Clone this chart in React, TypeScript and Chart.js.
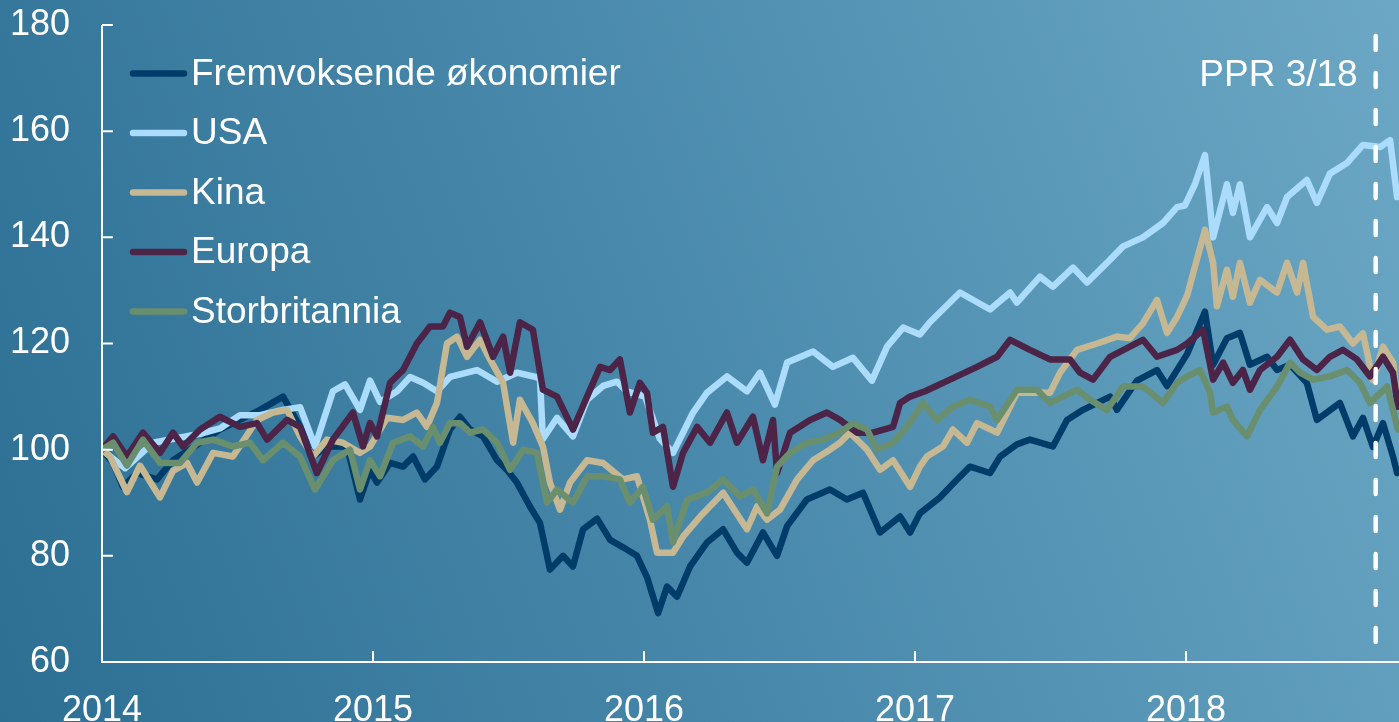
import React, { useEffect, useRef } from "react";
import { Chart, registerables } from "chart.js";

Chart.register(...registerables);

const FONT = '"Liberation Sans", Arial, Helvetica, sans-serif';

const yearTicks = [2014, 2015, 2016, 2017, 2018];
const valueTicks = [60, 80, 100, 120, 140, 160, 180];
const xMin = 2014;
const xMax = 2018.786;
const pprDate = 2018.7;
const pprLabel = "PPR 3/18";

const seriesNames = ["Fremvoksende økonomier", "USA", "Kina", "Europa", "Storbritannia"];
const seriesColors = ["#003c6a", "#acdcfc", "#c5b893", "#4b2448", "#6a8f6f"];

const emergingMarkets: [number, number][] = [
  [2014.0, 100], [2014.041, 97.5], [2014.077, 93], [2014.129, 95.6], [2014.203, 94.4], [2014.262, 98],
  [2014.362, 101.3], [2014.435, 103.8], [2014.509, 105.6], [2014.583, 107.5], [2014.668, 110], [2014.731, 104.3],
  [2014.779, 98.7], [2014.83, 100.6], [2014.904, 100.6], [2014.952, 90.6], [2014.989, 96.2], [2015.015, 93.8],
  [2015.063, 97.5], [2015.111, 96.8], [2015.148, 98.7], [2015.192, 94.4], [2015.236, 96.8], [2015.284, 103.8],
  [2015.321, 106.2], [2015.358, 103.8], [2015.406, 102.5], [2015.458, 98], [2015.494, 96.2], [2015.531, 93.8],
  [2015.579, 89.3], [2015.616, 86.2], [2015.653, 77.4], [2015.701, 80], [2015.738, 78], [2015.775, 85],
  [2015.827, 87], [2015.875, 83], [2015.923, 81.6], [2015.974, 80], [2016.011, 76], [2016.052, 69.2],
  [2016.085, 74.2], [2016.122, 72.3], [2016.17, 78], [2016.232, 82.5], [2016.292, 85], [2016.343, 80.6],
  [2016.38, 78.7], [2016.439, 84.4], [2016.491, 80], [2016.528, 85.6], [2016.601, 90.6], [2016.686, 92.5],
  [2016.749, 90.6], [2016.808, 91.9], [2016.871, 84.4], [2016.945, 87.4], [2016.982, 84.4], [2017.018, 88],
  [2017.092, 91], [2017.148, 94], [2017.203, 96.8], [2017.277, 95.6], [2017.314, 98.7], [2017.376, 101],
  [2017.424, 101.9], [2017.509, 100.6], [2017.561, 105.6], [2017.62, 107.5], [2017.72, 110], [2017.745, 107.5],
  [2017.819, 113], [2017.893, 115], [2017.93, 112], [2018.004, 118], [2018.07, 126], [2018.1, 116],
  [2018.151, 121], [2018.199, 122], [2018.236, 116], [2018.299, 117.5], [2018.336, 115], [2018.384, 116],
  [2018.446, 112.6], [2018.483, 105.6], [2018.568, 108.8], [2018.616, 102.5], [2018.653, 106], [2018.69, 100.5],
  [2018.727, 105], [2018.764, 98.7], [2018.779, 95.6],
];

const usa: [number, number][] = [
  [2014.0, 100], [2014.085, 96.5], [2014.188, 101.3], [2014.362, 103], [2014.435, 104], [2014.509, 106.5],
  [2014.583, 106.5], [2014.668, 107.5], [2014.731, 108], [2014.786, 100.6], [2014.852, 111], [2014.897, 112.3],
  [2014.952, 107.5], [2014.989, 113], [2015.026, 109], [2015.089, 111], [2015.137, 113.7], [2015.185, 112.6],
  [2015.236, 111], [2015.284, 113.7], [2015.384, 115], [2015.458, 112.8], [2015.531, 114.5], [2015.616, 113.5],
  [2015.627, 102], [2015.679, 106], [2015.738, 102.5], [2015.79, 109.4], [2015.849, 112], [2015.9, 112.8],
  [2015.937, 111], [2016.004, 110], [2016.059, 102], [2016.107, 99.4], [2016.181, 107], [2016.232, 110.7],
  [2016.306, 113.8], [2016.38, 111], [2016.428, 114.5], [2016.483, 108.5], [2016.528, 116.4], [2016.624, 118.5],
  [2016.697, 115.6], [2016.771, 117.3], [2016.841, 113], [2016.897, 119.4], [2016.956, 123], [2017.018, 121.7],
  [2017.055, 124], [2017.166, 129.6], [2017.277, 126.4], [2017.351, 129.6], [2017.376, 127.7], [2017.461, 132.6],
  [2017.509, 130.7], [2017.583, 134.3], [2017.635, 131.5], [2017.72, 135.8], [2017.768, 138.3], [2017.841, 140],
  [2017.915, 142.7], [2017.967, 145.7], [2017.996, 146], [2018.033, 150], [2018.07, 155.5], [2018.1, 140],
  [2018.151, 150], [2018.173, 144.6], [2018.199, 150], [2018.236, 140], [2018.299, 145.7], [2018.336, 142.7],
  [2018.373, 147.6], [2018.446, 150.8], [2018.483, 146.5], [2018.531, 152], [2018.594, 154], [2018.653, 157.4],
  [2018.716, 157], [2018.753, 158.3], [2018.779, 147.6],
];

const china: [number, number][] = [
  [2014.0, 100], [2014.03, 98.7], [2014.092, 92], [2014.14, 97], [2014.214, 91], [2014.262, 96],
  [2014.314, 97.5], [2014.351, 93.8], [2014.41, 99.4], [2014.483, 98.7], [2014.572, 105.6], [2014.631, 107],
  [2014.683, 107.5], [2014.731, 102.5], [2014.779, 98.7], [2014.83, 101.9], [2014.889, 101.3], [2014.952, 99.4],
  [2014.989, 100.6], [2015.052, 106], [2015.111, 105.6], [2015.162, 107], [2015.199, 104.3], [2015.236, 108.8],
  [2015.273, 120], [2015.31, 121.3], [2015.347, 117.5], [2015.395, 120.7], [2015.432, 117], [2015.48, 112.6],
  [2015.517, 101.3], [2015.542, 109.4], [2015.59, 105], [2015.627, 100.6], [2015.653, 93.8], [2015.69, 88.7],
  [2015.727, 93.8], [2015.79, 98], [2015.849, 97.5], [2015.923, 94.4], [2015.974, 95], [2016.022, 86.8],
  [2016.048, 80.6], [2016.107, 80.6], [2016.144, 83.6], [2016.207, 87.4], [2016.292, 91.9], [2016.38, 85],
  [2016.417, 89.3], [2016.454, 86.8], [2016.502, 88.7], [2016.565, 94.4], [2016.624, 98], [2016.686, 100],
  [2016.723, 101.3], [2016.76, 103.2], [2016.823, 100], [2016.871, 96.2], [2016.919, 98], [2016.982, 93],
  [2017.018, 96.8], [2017.044, 98.7], [2017.103, 100.6], [2017.14, 103.8], [2017.192, 101.3], [2017.229, 105],
  [2017.303, 103.2], [2017.376, 110.7], [2017.45, 110.7], [2017.498, 110.7], [2017.535, 114.5], [2017.598, 118.8],
  [2017.672, 120], [2017.745, 121.3], [2017.793, 121], [2017.841, 123.8], [2017.893, 128.2], [2017.93, 122],
  [2017.967, 125], [2018.004, 129], [2018.041, 136], [2018.07, 141.4], [2018.1, 135.2], [2018.114, 127],
  [2018.151, 133.9], [2018.173, 128.8], [2018.199, 135.2], [2018.236, 127.7], [2018.273, 132], [2018.336, 129.6],
  [2018.373, 135.2], [2018.41, 129.6], [2018.432, 135.2], [2018.469, 125], [2018.52, 122.6], [2018.568, 123.2],
  [2018.616, 120], [2018.653, 121.9], [2018.69, 113.1], [2018.727, 119.4], [2018.764, 116.4], [2018.782, 108.8],
];

const europe: [number, number][] = [
  [2014.0, 100], [2014.041, 102.5], [2014.092, 98.7], [2014.151, 103.2], [2014.214, 99.4], [2014.262, 103.2],
  [2014.299, 100.6], [2014.362, 103.8], [2014.435, 106.2], [2014.509, 104.3], [2014.572, 105], [2014.609, 101.9],
  [2014.683, 105.6], [2014.731, 104.3], [2014.793, 95.6], [2014.852, 101.9], [2014.926, 107], [2014.963, 100.6],
  [2014.989, 105], [2015.015, 102.5], [2015.063, 112.6], [2015.111, 115], [2015.162, 120], [2015.21, 123.2],
  [2015.258, 123.2], [2015.284, 125.8], [2015.321, 125], [2015.347, 119.4], [2015.395, 124], [2015.443, 117.5],
  [2015.48, 121.3], [2015.506, 114.5], [2015.542, 124], [2015.59, 122.6], [2015.627, 111.3], [2015.679, 110],
  [2015.738, 103.8], [2015.79, 110], [2015.838, 115.6], [2015.875, 115], [2015.911, 117], [2015.948, 107],
  [2015.985, 112.6], [2016.011, 110.7], [2016.033, 103.2], [2016.07, 104.3], [2016.107, 93], [2016.144, 99.4],
  [2016.196, 104.3], [2016.244, 101.3], [2016.306, 107], [2016.343, 101.3], [2016.402, 106.2], [2016.439, 98],
  [2016.476, 105.6], [2016.491, 95.6], [2016.539, 103.2], [2016.613, 105.6], [2016.675, 107], [2016.723, 105.6],
  [2016.786, 103.2], [2016.845, 103.2], [2016.919, 104.3], [2016.945, 108.8], [2016.982, 110], [2017.037, 111],
  [2017.129, 113.2], [2017.229, 115.6], [2017.303, 117.5], [2017.351, 120.7], [2017.424, 118.8], [2017.498, 117],
  [2017.572, 117], [2017.609, 114.5], [2017.657, 113.2], [2017.72, 117.5], [2017.793, 119.4], [2017.841, 120.7],
  [2017.893, 117.5], [2017.967, 118.8], [2018.004, 120], [2018.063, 122.6], [2018.1, 113.2], [2018.137, 116.4],
  [2018.173, 112.6], [2018.21, 115], [2018.236, 111.3], [2018.273, 115], [2018.336, 117.5], [2018.384, 120.7],
  [2018.432, 117], [2018.483, 115], [2018.531, 117.5], [2018.579, 118.8], [2018.631, 117], [2018.679, 113.8],
  [2018.727, 117.5], [2018.764, 114.5], [2018.782, 108.1],
];

const unitedKingdom: [number, number][] = [
  [2014.0, 100], [2014.041, 101.3], [2014.092, 97], [2014.151, 101.9], [2014.214, 97.5], [2014.288, 97.5],
  [2014.351, 101.3], [2014.41, 101.9], [2014.483, 100.6], [2014.546, 101.3], [2014.594, 98], [2014.668, 101.3],
  [2014.731, 98.7], [2014.786, 92.5], [2014.852, 98], [2014.915, 100], [2014.952, 92.5], [2014.989, 98],
  [2015.026, 95], [2015.074, 101.3], [2015.137, 102.5], [2015.185, 100.6], [2015.221, 104.3], [2015.247, 101.3],
  [2015.284, 105], [2015.321, 105], [2015.358, 103.2], [2015.406, 103.8], [2015.458, 101.3], [2015.506, 96.2],
  [2015.554, 100], [2015.605, 99.4], [2015.642, 90], [2015.679, 92.5], [2015.738, 90], [2015.79, 95],
  [2015.849, 95], [2015.911, 94.4], [2015.948, 90], [2015.996, 93], [2016.033, 86.8], [2016.085, 89.3],
  [2016.107, 82.5], [2016.159, 90.6], [2016.232, 91.9], [2016.292, 94.4], [2016.354, 91.2], [2016.402, 92.5],
  [2016.454, 88], [2016.491, 96.8], [2016.539, 99.4], [2016.601, 101.3], [2016.661, 101.9], [2016.723, 103.2],
  [2016.771, 105], [2016.823, 103.8], [2016.86, 100], [2016.919, 101.3], [2016.97, 104.3], [2017.03, 108.8],
  [2017.081, 105.6], [2017.14, 108.1], [2017.203, 109.4], [2017.277, 108.1], [2017.303, 105.6], [2017.376, 111.3],
  [2017.45, 111.3], [2017.498, 108.8], [2017.598, 111.3], [2017.646, 109.4], [2017.708, 107.5], [2017.768, 111.9],
  [2017.841, 111.9], [2017.915, 108.8], [2017.967, 112.6], [2018.004, 113.8], [2018.052, 115], [2018.089, 110.7],
  [2018.1, 107], [2018.151, 108.1], [2018.173, 105.6], [2018.225, 102.5], [2018.273, 107.5], [2018.336, 111.9],
  [2018.384, 116.4], [2018.421, 114.5], [2018.469, 113.2], [2018.531, 113.8], [2018.594, 115], [2018.642, 112.6],
  [2018.679, 108.8], [2018.742, 111.9], [2018.782, 103.8],
];

const seriesData = [emergingMarkets, usa, china, europe, unitedKingdom];

const overlayPlugin = {
  id: "overlay",
  afterDatasetsDraw(chart: any) {
    const { ctx, chartArea, scales } = chart;
    const { left, right, top, bottom } = chartArea;
    const x = scales.x;
    const y = scales.y;
    ctx.save();
    // axes
    ctx.strokeStyle = "#ffffff";
    ctx.lineWidth = 2;
    ctx.lineCap = "butt";
    ctx.beginPath();
    ctx.moveTo(left, y.getPixelForValue(valueTicks[valueTicks.length - 1]));
    ctx.lineTo(left, bottom);
    ctx.lineTo(right, bottom);
    valueTicks.forEach((v) => {
      const py = y.getPixelForValue(v);
      ctx.moveTo(left, py);
      ctx.lineTo(left + 11, py);
    });
    yearTicks.forEach((t) => {
      const px = x.getPixelForValue(t);
      ctx.moveTo(px, bottom);
      ctx.lineTo(px, bottom - 11);
    });
    ctx.stroke();

    // PPR dashed line
    const pxp = x.getPixelForValue(pprDate);
    ctx.save();
    ctx.lineWidth = 4.5;
    ctx.lineCap = "round";
    ctx.setLineDash([14, 23]);
    ctx.beginPath();
    ctx.moveTo(pxp, top + 11);
    ctx.lineTo(pxp, bottom - 2);
    ctx.stroke();
    ctx.restore();

    ctx.fillStyle = "#ffffff";
    ctx.font = `37px ${FONT}`;
    ctx.textAlign = "right";
    ctx.textBaseline = "middle";
    ctx.fillText(pprLabel, pxp - 18, top + 51);

    // legend
    ctx.textAlign = "left";
    seriesNames.forEach((name, i) => {
      const ly = top + 48.5 + i * 59.5;
      ctx.strokeStyle = seriesColors[i];
      ctx.lineWidth = 6.5;
      ctx.lineCap = "round";
      ctx.beginPath();
      ctx.moveTo(left + 31, ly);
      ctx.lineTo(left + 82, ly);
      ctx.stroke();
      ctx.fillStyle = "#ffffff";
      ctx.fillText(name, left + 89, ly + 1);
    });
    ctx.restore();
  },
};

export default function App() {
  const canvasRef = useRef<HTMLCanvasElement | null>(null);

  useEffect(() => {
    const canvas = canvasRef.current;
    if (!canvas) return;
    const chart = new Chart(canvas, {
      type: "line",
      data: {
        datasets: seriesData.map((pts, i) => ({
          label: seriesNames[i],
          data: pts.map(([t, v]) => ({ x: t, y: v })),
          borderColor: seriesColors[i],
          backgroundColor: seriesColors[i],
          borderWidth: 6.5,
          pointRadius: 0,
          tension: 0,
          fill: false,
          borderJoinStyle: "round" as const,
          borderCapStyle: "round" as const,
          order: seriesNames.length - i,
        })),
      },
      options: {
        responsive: false,
        animation: false,
        events: [],
        layout: { padding: { left: 0, right: 0, top: 25, bottom: 0 } },
        plugins: { legend: { display: false }, tooltip: { enabled: false } },
        scales: {
          x: {
            type: "linear",
            min: xMin,
            max: xMax,
            grid: { display: false },
            border: { display: false },
            afterBuildTicks: (s: any) => {
              s.ticks = yearTicks.map((v) => ({ value: v }));
            },
            afterFit: (s: any) => {
              s.height = 60;
              s.paddingLeft = 0;
              s.paddingRight = 0;
            },
            ticks: {
              color: "#ffffff",
              font: { family: FONT, size: 36 },
              padding: 19,
              maxRotation: 0,
              autoSkip: false,
              callback: (v: any) => String(v),
            },
          },
          y: {
            type: "linear",
            min: 60,
            max: 180,
            grid: { display: false },
            border: { display: false },
            afterBuildTicks: (s: any) => {
              s.ticks = valueTicks.map((v) => ({ value: v }));
            },
            afterFit: (s: any) => {
              s.width = 102;
              s.paddingTop = 0;
              s.paddingBottom = 0;
            },
            ticks: {
              color: "#ffffff",
              font: { family: FONT, size: 36 },
              padding: 24,
              callback: (v: any) => String(v),
            },
          },
        },
      },
      plugins: [overlayPlugin],
    });
    return () => chart.destroy();
  }, []);

  return (
    <div
      style={{
        position: "absolute",
        left: 0,
        top: 0,
        width: 1399,
        height: 722,
        overflow: "hidden",
        background: "linear-gradient(70deg, #2c6f93 0%, #4a8aac 50%, #6ca8c5 100%)",
      }}
    >
      <canvas ref={canvasRef} width={1399} height={722} style={{ display: "block" }} />
    </div>
  );
}
